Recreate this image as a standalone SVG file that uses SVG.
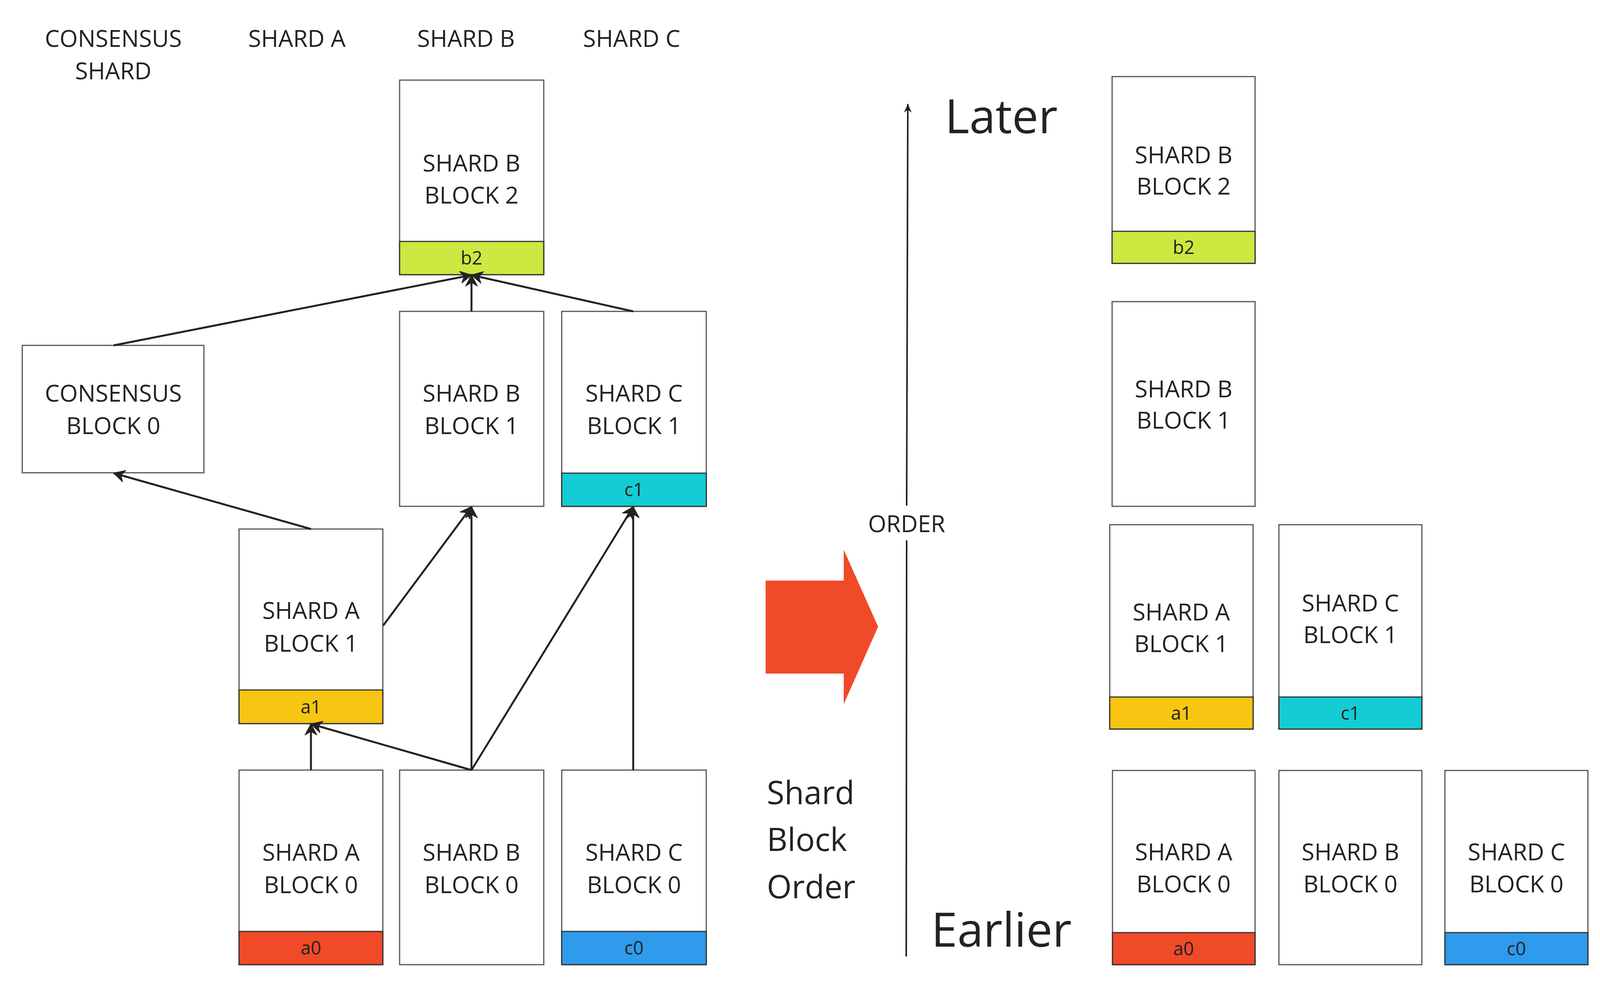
<svg xmlns="http://www.w3.org/2000/svg" width="6299" height="2539" viewBox="0 0 6299 2539">
<style>
text{font-family:"Open Sans","Liberation Sans",sans-serif;fill:#222}
.c{text-anchor:middle}
.h{font-size:60px}
.s{font-size:47px}
.big{font-size:78px}
.xl{font-size:120px}
.md{font-size:82px}
.lg{font-size:84px}
.bi{font-weight:bold;font-style:italic}
.box{fill:#fff;stroke:#555;stroke-width:3}
.strip{stroke:#333;stroke-width:3}
.ya{fill:#F04A28}.yb{fill:#F7C512}.yl{fill:#CFE741}.yc{fill:#14CCD3}.yd{fill:#2E9BEC}
.conn line{stroke:#222;stroke-width:5;marker-end:url(#ah)}
.red{fill:#F04A28}
</style>
<defs>
<marker id="ah" viewBox="-32 -18 34 36" markerWidth="34" markerHeight="36" refX="0" refY="0" orient="auto" markerUnits="userSpaceOnUse">
<path d="M0,0 L-28,-15 L-19,0 L-28,15 Z" fill="#222" stroke="#222" stroke-width="2" stroke-linejoin="round"/>
</marker>
<marker id="ahs" viewBox="-26 -14 28 28" markerWidth="28" markerHeight="28" refX="0" refY="0" orient="auto" markerUnits="userSpaceOnUse">
<path d="M0,0 L-22,-10 L-15,0 L-22,10 Z" fill="#222"/>
</marker>
</defs>
<rect width="6299" height="2539" fill="#fff"/>

<g id="headers">
<text class="h c" x="290" y="120">CONSENSUS</text>
<text class="h c" x="290" y="203">SHARD</text>
<text class="h c" x="760" y="120">SHARD A</text>
<text class="h c" x="1193" y="120">SHARD B</text>
<text class="h c" x="1617" y="120">SHARD C</text>
</g>

<g id="left-b2">
<rect class="box" x="1023" y="205" width="369" height="498"/>
<rect class="strip yl" x="1023" y="618" width="369" height="85"/>
<text class="h c" x="1207" y="439">SHARD B</text>
<text class="h c" x="1207" y="521">BLOCK 2</text>
<text class="s c" x="1207" y="677">b2</text>
</g>
<g id="left-cons0">
<rect class="box" x="57" y="884" width="465" height="326"/>
<text class="h c" x="290" y="1028">CONSENSUS</text>
<text class="h c" x="290" y="1111">BLOCK 0</text>
</g>
<g id="left-b1">
<rect class="box" x="1023" y="797" width="369" height="499"/>
<text class="h c" x="1207" y="1028">SHARD B</text>
<text class="h c" x="1207" y="1111">BLOCK 1</text>
</g>
<g id="left-c1">
<rect class="box" x="1438" y="797" width="370" height="499"/>
<rect class="strip yc" x="1438" y="1211" width="370" height="85"/>
<text class="h c" x="1623" y="1028">SHARD C</text>
<text class="h c" x="1623" y="1111">BLOCK 1</text>
<text class="s c" x="1623" y="1270">c1</text>
</g>
<g id="left-a1">
<rect class="box" x="612" y="1354" width="368" height="498"/>
<rect class="strip yb" x="612" y="1766" width="368" height="86"/>
<text class="h c" x="796" y="1584">SHARD A</text>
<text class="h c" x="796" y="1668">BLOCK 1</text>
<text class="s c" x="796" y="1826">a1</text>
</g>
<g id="left-a0">
<rect class="box" x="612" y="1971" width="368" height="498"/>
<rect class="strip ya" x="612" y="2384" width="368" height="85"/>
<text class="h c" x="796" y="2203">SHARD A</text>
<text class="h c" x="796" y="2286">BLOCK 0</text>
<text class="s c" x="796" y="2443">a0</text>
</g>
<g id="left-b0">
<rect class="box" x="1023" y="1971" width="369" height="498"/>
<text class="h c" x="1207" y="2203">SHARD B</text>
<text class="h c" x="1207" y="2286">BLOCK 0</text>
</g>
<g id="left-c0">
<rect class="box" x="1438" y="1971" width="370" height="498"/>
<rect class="strip yd" x="1438" y="2384" width="370" height="85"/>
<text class="h c" x="1623" y="2203">SHARD C</text>
<text class="h c" x="1623" y="2286">BLOCK 0</text>
<text class="s c" x="1623" y="2443">c0</text>
</g>

<g id="connectors" class="conn">
<line x1="291" y1="884" x2="1207" y2="704"/>
<line x1="1207" y1="797" x2="1207" y2="704"/>
<line x1="1621" y1="797" x2="1207" y2="704"/>
<line x1="796" y1="1354" x2="291" y2="1211"/>
<line x1="981" y1="1601" x2="1207" y2="1297"/>
<line x1="1207" y1="1971" x2="1207" y2="1297"/>
<line x1="1207" y1="1971" x2="796" y2="1853"/>
<line x1="1207" y1="1971" x2="1621" y2="1297"/>
<line x1="796" y1="1971" x2="796" y2="1853"/>
<line x1="1621" y1="1971" x2="1621" y2="1297"/>
</g>

<g id="arrow-1">
<path class="red" d="M1960,1486 L2160,1486 L2160,1407 L2248,1604 L2160,1802 L2160,1724 L1960,1724 Z"/>
</g>
<g id="shard-block-order">
<text class="md" x="1963" y="2058">Shard</text>
<text class="md" x="1963" y="2178">Block</text>
<text class="md" x="1963" y="2299">Order</text>
</g>

<g id="order-axis">
<line x1="2321" y1="1294" x2="2324" y2="266" stroke="#222" stroke-width="4" marker-end="url(#ahs)"/>
<line x1="2320" y1="2448" x2="2321" y2="1383" stroke="#222" stroke-width="4"/>
<text class="h c" x="2321" y="1362">ORDER</text>
<text class="xl" x="2419" y="341">Later</text>
<text class="xl" x="2384" y="2423">Earlier</text>
</g>

<g id="mid-b2">
<rect class="box" x="2847" y="196" width="366" height="478"/>
<rect class="strip yl" x="2847" y="592" width="366" height="82"/>
<text class="h c" x="3030" y="418">SHARD B</text>
<text class="h c" x="3030" y="498">BLOCK 2</text>
<text class="s c" x="3030" y="650">b2</text>
</g>
<g id="mid-b1">
<rect class="box" x="2847" y="772" width="366" height="524"/>
<text class="h c" x="3030" y="1017">SHARD B</text>
<text class="h c" x="3030" y="1097">BLOCK 1</text>
</g>
<g id="mid-a1">
<rect class="box" x="2841" y="1343" width="367" height="523"/>
<rect class="strip yb" x="2841" y="1784" width="367" height="82"/>
<text class="h c" x="3024" y="1588">SHARD A</text>
<text class="h c" x="3024" y="1669">BLOCK 1</text>
<text class="s c" x="3024" y="1842">a1</text>
</g>
<g id="mid-c1">
<rect class="box" x="3274" y="1343" width="366" height="523"/>
<rect class="strip yc" x="3274" y="1784" width="366" height="82"/>
<text class="h c" x="3457" y="1565">SHARD C</text>
<text class="h c" x="3457" y="1646">BLOCK 1</text>
<text class="s c" x="3457" y="1842">c1</text>
</g>
<g id="mid-a0">
<rect class="box" x="2848" y="1972" width="365" height="497"/>
<rect class="strip ya" x="2848" y="2387" width="365" height="82"/>
<text class="h c" x="3030" y="2202">SHARD A</text>
<text class="h c" x="3030" y="2284">BLOCK 0</text>
<text class="s c" x="3030" y="2445">a0</text>
</g>
<g id="mid-b0">
<rect class="box" x="3274" y="1972" width="366" height="497"/>
<text class="h c" x="3457" y="2202">SHARD B</text>
<text class="h c" x="3457" y="2284">BLOCK 0</text>
</g>
<g id="mid-c0">
<rect class="box" x="3699" y="1972" width="366" height="497"/>
<rect class="strip yd" x="3699" y="2387" width="366" height="82"/>
<text class="h c" x="3882" y="2202">SHARD C</text>
<text class="h c" x="3882" y="2284">BLOCK 0</text>
<text class="s c" x="3882" y="2445">c0</text>
</g>

<g id="legend" class="lg">
<text x="4366" y="286"><tspan class="bi" fill="#F04A28">a0</tspan><tspan class="bi">:</tspan> cross-shard transactions destination shard B</text>
<text x="4366" y="406"><tspan class="bi" fill="#F7C512">a1</tspan><tspan class="bi">:</tspan> cross-shard transactions destination shard B</text>
<text x="4366" y="525"><tspan class="bi" fill="#CFE741">b2</tspan><tspan class="bi">:</tspan> new transactions destination shard B</text>
<text x="4366" y="645"><tspan class="bi" fill="#14CCD3">c1</tspan><tspan class="bi">:</tspan> cross-shard transactions destination shard B</text>
<text x="4366" y="766"><tspan class="bi" fill="#2E9BEC">c0</tspan><tspan class="bi">:</tspan> cross-shard transactions destination shard B</text>
</g>

<g id="arrow-2">
<path class="red" d="M4179,1461 L4399,1461 L4399,1379 L4501,1585 L4399,1791 L4399,1709 L4179,1709 Z"/>
</g>
<g id="cross-shard-order">
<text class="md" x="4181" y="1964">Cross-Shard</text>
<text class="md" x="4181" y="2084">transaction</text>
<text class="md" x="4181" y="2200">&amp;</text>
<text class="md" x="4181" y="2323">Transaction</text>
<text class="md" x="4181" y="2439">Order</text>
</g>

<g id="column-1">
<rect class="box" x="4817" y="844" width="492" height="1658"/>
<text class="h c" x="5062" y="931">SHARD B</text>
<text class="h c" x="5062" y="1013">BLOCK 2</text>
<rect class="strip yl" x="4856" y="1078" width="419" height="166"/>
<text class="big c" x="5065" y="1189">b2</text>
<rect class="strip yc" x="4856" y="1363" width="419" height="166"/>
<text class="big c" x="5065" y="1474">c1</text>
<rect class="strip yb" x="4856" y="1648" width="419" height="165"/>
<text class="big c" x="5065" y="1758">a1</text>
<rect class="strip yd" x="4856" y="1933" width="419" height="167"/>
<text class="big c" x="5065" y="2044">c0</text>
<rect class="strip ya" x="4856" y="2218" width="419" height="167"/>
<text class="big c" x="5065" y="2329">a0</text>
</g>

<g id="or-label">
<text class="c" x="5448" y="1793" font-size="115">OR</text>
</g>

<g id="column-2">
<rect class="box" x="5598" y="844" width="492" height="1658"/>
<text class="h c" x="5843" y="931">SHARD B</text>
<text class="h c" x="5843" y="1013">BLOCK 2</text>
<rect class="strip yc" x="5652" y="1647" width="421" height="166"/>
<text class="big c" x="5860" y="1758">c1</text>
<rect class="strip ya" x="5652" y="1932" width="421" height="166"/>
<text class="big c" x="5860" y="2043">a0</text>
<rect class="strip yd" x="5652" y="2217" width="421" height="166"/>
<text class="big c" x="5860" y="2328">c0</text>
</g>

<g id="ellipsis">
<text x="6123" y="1796" font-size="115">...</text>
</g>
</svg>
